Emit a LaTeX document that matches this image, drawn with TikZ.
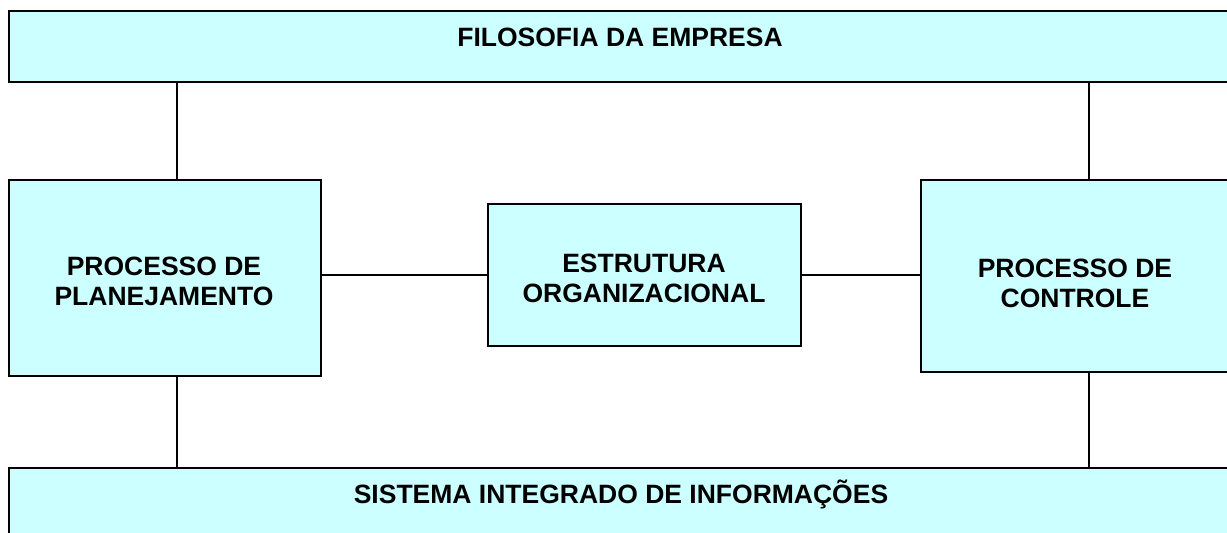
\documentclass[tikz,border=0pt]{standalone}
\usepackage{fontspec}
\setmainfont{Liberation Sans}
\usepackage{tikz}
\usetikzlibrary{positioning}
\definecolor{boxcyan}{HTML}{CCFFFF}

\begin{document}
\begin{tikzpicture}[x = 1pt, y = -1pt, box/.style={draw, line width = 2pt, fill = boxcyan, inner sep = 0pt, anchor = north west}, caption/.style={font = \fontsize{26.5}{30}\bfseries\selectfont, align = center, inner sep = 0pt, anchor = base}]
  \clip (0,0) rectangle (1227,533);
  % nodes
  \node [box, minimum width = 1240pt, minimum height = 71pt] (filo) at (8,10) {};
  \node [box, minimum width = 312pt, minimum height = 196pt] (plan) at (8,179) {};
  \node [box, minimum width = 313pt, minimum height = 142pt] (estr) at (487,203) {};
  \node [box, minimum width = 320pt, minimum height = 192pt] (ctrl) at (920,179) {};
  \node [box, minimum width = 1240pt, minimum height = 80pt] (sist) at (8,467) {};

  \node [caption] (filotext) at (620,46) {FILOSOFIA DA EMPRESA};
  \node [caption] (plantext) at (164,305) {PROCESSO DE\\PLANEJAMENTO};
  \node [caption] (estrtext) at (644,302) {ESTRUTURA\\ORGANIZACIONAL};
  \node [caption] (ctrltext) at (1075,307) {PROCESSO DE\\CONTROLE};
  \node [caption] (sisttext) at (621,503) {SISTEMA INTEGRADO DE INFORMAÇÕES};

  % edges
  \draw [line width = 2pt] ([xshift = 12pt]plan.north) -- ([xshift = 12pt]plan.north |- filo.south);
  \draw [line width = 2pt] ([xshift = 8pt]ctrl.north) -- ([xshift = 8pt]ctrl.north |- filo.south);
  \draw [line width = 2pt] ([xshift = 12pt]plan.south) -- ([xshift = 12pt]plan.south |- sist.north);
  \draw [line width = 2pt] ([xshift = 8pt]ctrl.south) -- ([xshift = 8pt]ctrl.south |- sist.north);
  \draw [line width = 2pt] (estr.west) -- (estr.west -| plan.east);
  \draw [line width = 2pt] (estr.east) -- (estr.east -| ctrl.west);
\end{tikzpicture}
\end{document}
